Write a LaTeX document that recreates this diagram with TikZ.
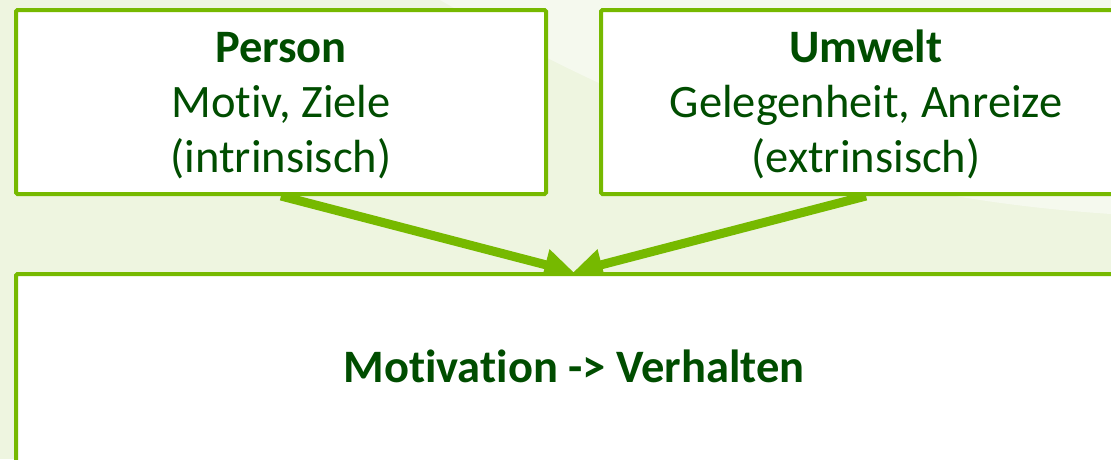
\documentclass[tikz,border=0pt]{standalone}
\usepackage{fontspec}
\setmainfont[Ligatures=NoCommon]{Carlito}
\usetikzlibrary{arrows.meta}
\definecolor{bgg}{RGB}{238,245,224}
\definecolor{bgl}{RGB}{245,249,238}
\definecolor{brd}{RGB}{118,185,0}
\definecolor{txg}{RGB}{0,77,0}
\pgfdeclarelayer{back}
\pgfdeclarelayer{conns}
\pgfsetlayers{back,conns,main}
\tikzset{
  box/.style={draw=brd, line width=4pt, fill=white, rounded corners=1.5pt, inner sep=0pt},
  txt/.style={text=txg, font=\fontsize{46.5}{55}\selectfont, inner sep=0pt, anchor=base},
  btxt/.style={txt, font=\fontsize{46.5}{55}\selectfont\bfseries},
  conn/.style={draw=brd, line width=9pt, -{Triangle[length=29pt,width=30pt]}}
}
\begin{document}
\begin{tikzpicture}[x=1pt,y=-1pt]
\useasboundingbox (0,0) rectangle (1111,459);
\clip (0,0) rectangle (1111,459);
\begin{pgfonlayer}{back}
\fill[bgg] (0,0) rectangle (1111,459);
\fill[bgl] (440,0) .. controls (700,150) and (900,200) .. (1111,214) -- (1111,0) -- cycle;
\end{pgfonlayer}
\node[box, minimum width=530pt, minimum height=184pt] (p) at (281,102) {};
\node[box, minimum width=530pt, minimum height=184pt] (u) at (866,102) {};
\node[box, minimum width=1116pt, minimum height=190pt] (m) at (574,369) {};
\coordinate (tip) at (573.5,272);
\begin{pgfonlayer}{conns}
\draw[conn] (p.south) -- (tip);
\draw[conn] (u.south) -- (tip);
\end{pgfonlayer}
\node[btxt] (p1) at (281,62) {Person};
\node[txt] (p2) at (281,117) {Motiv, Ziele};
\node[txt] (p3) at (281,172) {(intrinsisch)};
\node[btxt] (u1) at (866,62) {Umwelt};
\node[txt] (u2) at (866,117) {Gelegenheit, Anreize};
\node[txt] (u3) at (866,172) {(extrinsisch)};
\node[btxt] (m1) at (574,382) {Motivation -> Verhalten};
\end{tikzpicture}
\end{document}
